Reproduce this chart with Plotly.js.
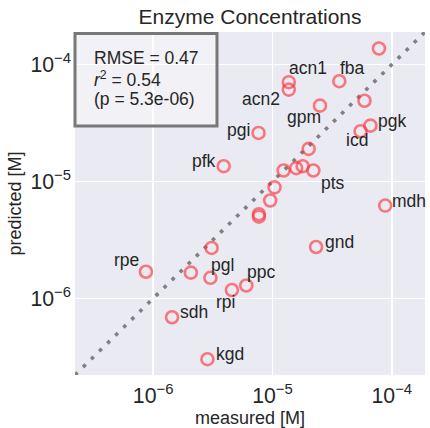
<!DOCTYPE html>
<html>
<head>
<meta charset="utf-8">
<script src="https://cdn.plot.ly/plotly-3.0.1.min.js"></script>
<style>html,body{margin:0;padding:0;background:#fff;}#chart{width:430px;height:428px;}</style>
</head>
<body>
<div id="chart"></div>
<script>
// ---- data ----
const enzymes   = ['', 'acn1', 'acn2', 'fba', '', 'gpm', 'pgk', 'icd', 'pgi', 'pfk',
                   '', '', '', '', 'pts', '', '', '', '', 'mdh',
                   'gnd', '', 'rpe', '', 'pgl', 'rpi', 'ppc', 'sdh', 'kgd'];
const measured  = [7.8e-5, 1.37e-5, 1.37e-5, 3.63e-5, 5.9e-5, 2.5e-5, 6.62e-5, 5.47e-5, 7.64e-6, 3.9e-6,
                   2.01e-5, 1.24e-5, 1.58e-5, 1.79e-5, 2.2e-5, 1.04e-5, 9.57e-6, 7.69e-6, 7.69e-6, 8.8e-5,
                   2.32e-5, 3.09e-6, 8.7e-7, 2.07e-6, 3.02e-6, 4.57e-6, 6.03e-6, 1.44e-6, 2.85e-6];
const predicted = [1.37e-4, 7.06e-5, 6.1e-5, 7.2e-5, 4.9e-5, 4.45e-5, 3.0e-5, 2.69e-5, 2.6e-5, 1.35e-5,
                   1.9e-5, 1.24e-5, 1.30e-5, 1.35e-5, 1.24e-5, 8.9e-6, 6.87e-6, 5.25e-6, 5.0e-6, 6.22e-6,
                   2.75e-6, 2.7e-6, 1.69e-6, 1.66e-6, 1.50e-6, 1.18e-6, 1.29e-6, 6.9e-7, 3.02e-7];
const statLines = ['RMSE = 0.47', '<i>r</i><sup>2</sup> = 0.54', '(p = 5.3e-06)'];
const chartTitle = 'Enzyme Concentrations';
const xLabel = 'measured [M]';
const yLabel = 'predicted [M]';

// ---- layout settings (positions / styles) ----
const axisLog = [-6.655, -3.722];
const labelOffsets = { // [dx, dy] in screen pixels, dy positive = down
  acn1: [19, -14], acn2: [-28, 9], fba: [13, -13], gpm: [-16, 11], pgk: [22, -5],
  icd: [-4, 9], pgi: [-20, -3], pfk: [-20, -5], pts: [20, 12], mdh: [24, -5],
  gnd: [23, -5], rpe: [-19, -12], pgl: [12, -13], ppc: [15, -13], rpi: [-6, 12],
  sdh: [22, -5], kgd: [23, -5]
};
const FONT = '"Liberation Sans", Arial, Helvetica, sans-serif';
const TXT = '#262626';

const identity = axisLog.map(v => Math.pow(10, v));

const traces = [
  {
    x: identity, y: identity, mode: 'lines', hoverinfo: 'skip',
    line: {color: 'rgb(128,128,128)', width: 3.6, dash: '3.6px,7.7px'},
    showlegend: false
  },
  {
    x: measured, y: predicted, mode: 'markers', text: enzymes,
    marker: {symbol: 'circle-open', size: 12, color: 'rgba(255,45,55,0.62)',
             line: {width: 2.6, color: 'rgba(255,45,55,0.62)'}},
    showlegend: false
  }
];

const annotations = [];
enzymes.forEach((name, i) => {
  if (!name) return;
  const off = labelOffsets[name] || [15, -10];
  annotations.push({
    x: Math.log10(measured[i]), y: Math.log10(predicted[i]), xref: 'x', yref: 'y',
    text: name, showarrow: false, xanchor: 'center', yanchor: 'middle',
    xshift: off[0], yshift: -off[1],
    font: {family: FONT, size: 17.5, color: TXT}
  });
});
const statY = [58.5, 78.5, 98.5];
statLines.forEach((t, i) => {
  annotations.push({
    xref: 'paper', yref: 'paper', x: (92 - 75) / 350, y: 1 - (statY[i] - 32) / 343,
    xanchor: 'left', yanchor: 'middle', text: t, showarrow: false,
    font: {family: FONT, size: 17.5, color: TXT}
  });
});

const layout = {
  width: 430, height: 428,
  margin: {l: 75, r: 5, t: 32, b: 53},
  paper_bgcolor: '#ffffff', plot_bgcolor: '#EAEAF2',
  font: {family: FONT, color: TXT},
  title: {text: chartTitle, font: {family: FONT, size: 21, color: TXT},
          x: 0.5815, xanchor: 'center', xref: 'container', yref: 'container', y: 1 - 16.5 / 428, yanchor: 'middle'},
  xaxis: {
    type: 'log', range: axisLog, dtick: 1, exponentformat: 'power',
    showgrid: true, gridcolor: '#ffffff', gridwidth: 1.6, zeroline: false, showline: false,
    ticks: '', ticklabelstandoff: 6, tickfont: {family: FONT, size: 17, color: TXT},
    title: {text: xLabel, font: {family: FONT, size: 18, color: TXT}, standoff: 15}
  },
  yaxis: {
    type: 'log', range: axisLog, dtick: 1, exponentformat: 'power',
    showgrid: true, gridcolor: '#ffffff', gridwidth: 1.6, zeroline: false, showline: false,
    ticks: '', ticklabelstandoff: 3, tickfont: {family: FONT, size: 17, color: TXT},
    title: {text: yLabel, font: {family: FONT, size: 18, color: TXT}, standoff: 4}
  },
  shapes: [{
    type: 'rect', xref: 'paper', yref: 'paper', layer: 'above',
    x0: 0, x1: (217 - 75) / 350, y0: 1 - (126 - 32) / 343, y1: 1 - (33.5 - 32) / 343,
    line: {color: 'rgb(120,120,120)', width: 3},
    fillcolor: 'rgba(255,255,255,0.35)'
  }],
  annotations: annotations,
  hovermode: false
};

Plotly.newPlot('chart', traces, layout, {displayModeBar: false, staticPlot: true});
</script>
</body>
</html>
